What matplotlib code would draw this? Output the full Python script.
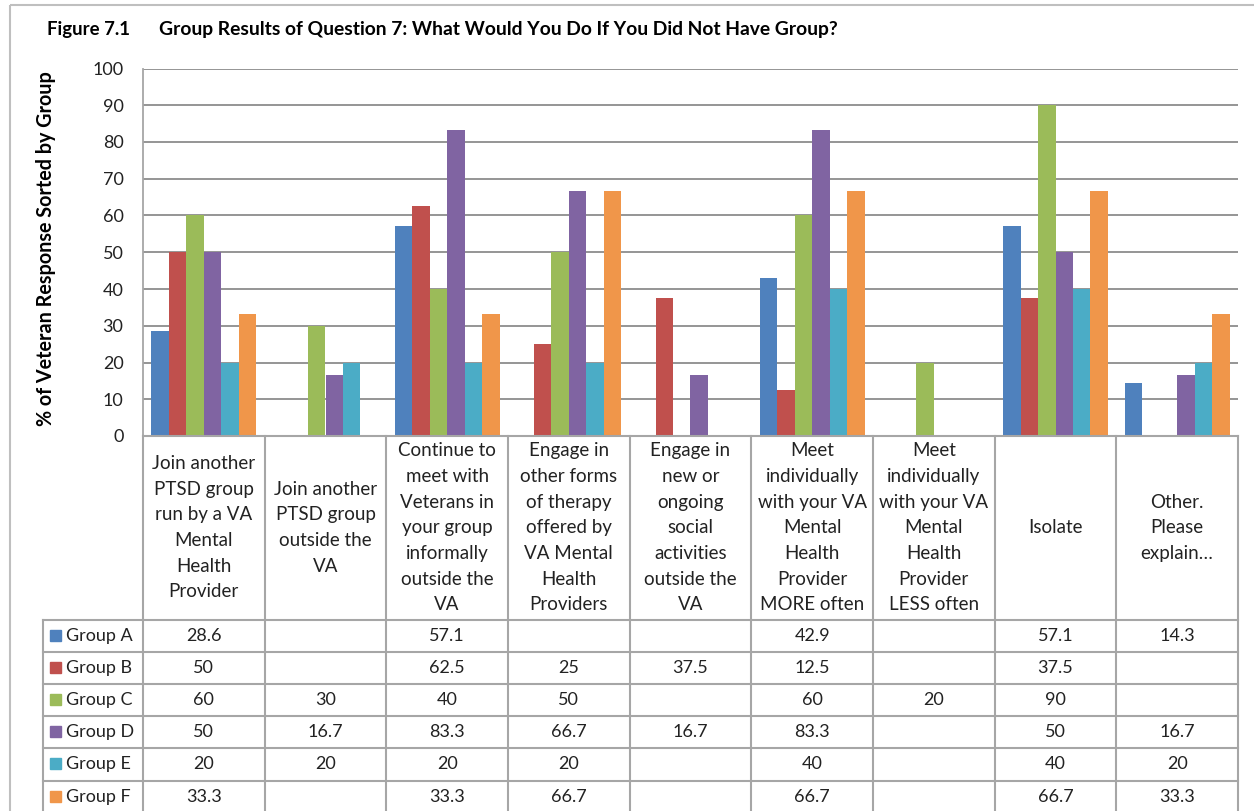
import numpy as np
import matplotlib.pyplot as plt
from matplotlib.patches import Rectangle

plt.rcParams['font.family'] = ['Lato', 'DejaVu Sans']

# Данные
categories = [
    "Join another\nPTSD group\nrun by a VA\nMental\nHealth\nProvider",
    "Join another\nPTSD group\noutside the\nVA",
    "Continue to\nmeet with\nVeterans in\nyour group\ninformally\noutside the\nVA",
    "Engage in\nother forms\nof therapy\noffered by\nVA Mental\nHealth\nProviders",
    "Engage in\nnew or\nongoing\nsocial\nactivities\noutside the\nVA",
    "Meet\nindividually\nwith your VA\nMental\nHealth\nProvider\nMORE often",
    "Meet\nindividually\nwith your VA\nMental\nHealth\nProvider\nLESS often",
    "Isolate",
    "Other.\nPlease\nexplain…",
]
groups = ["Group A", "Group B", "Group C", "Group D", "Group E", "Group F"]
colors = ["#4F81BD", "#C0504D", "#9BBB59", "#8064A2", "#4BACC6", "#F0964A"]

group_a = [28.6, None, 57.1, None, None, 42.9, None, 57.1, 14.3]
group_b = [50, None, 62.5, 25, 37.5, 12.5, None, 37.5, None]
group_c = [60, 30, 40, 50, None, 60, 20, 90, None]
group_d = [50, 16.7, 83.3, 66.7, 16.7, 83.3, None, 50, 16.7]
group_e = [20, 20, 20, 20, None, 40, None, 40, 20]
group_f = [33.3, None, 33.3, 66.7, None, 66.7, None, 66.7, 33.3]
values = [group_a, group_b, group_c, group_d, group_e, group_f]

yticks = list(range(0, 101, 10))

# Разметка в пикселях
W, H = 1254, 811
plot_l, plot_r = 143, 1238
plot_t, plot_b = 68.5, 436
leg_l = 43
hdr_b = 619.5
row_h = 32.2
line_c = "#A6A6A6"
txt_c = "#222222"

fig = plt.figure(figsize=(W / 100, H / 100), dpi=100)

# График столбцов
ax = fig.add_axes([plot_l / W, 1 - plot_b / H, (plot_r - plot_l) / W, (plot_b - plot_t) / H])
n = len(categories)
x = np.arange(n)
bw = 0.1435
for i, (vals, c) in enumerate(zip(values, colors)):
    h = [np.nan if v is None else v for v in vals]
    ax.bar(x + (i - 2.5) * bw, h, bw, color=c, zorder=3, linewidth=0)
ax.set_xlim(-0.5, n - 0.5)
ax.set_ylim(0, 100)
ax.set_yticks(yticks)
ax.set_xticks([])
ax.yaxis.grid(True, color="#8C8C8C", lw=1.3, zorder=0)
for s in ["top", "right", "bottom"]:
    ax.spines[s].set_visible(False)
ax.spines["left"].set_color(line_c)
ax.spines["left"].set_linewidth(1.3)
ax.tick_params(axis="y", length=0, pad=14, labelsize=13, labelcolor=txt_c)

# Таблица данных поверх всей фигуры
ov = fig.add_axes([0, 0, 1, 1], facecolor="none")
ov.set_xlim(0, W)
ov.set_ylim(H, 0)
ov.axis("off")

ov.add_patch(Rectangle((10, 5), W + 20, H + 20, fill=False, ec="#BFBFBF", lw=1.5))

colw = (plot_r - plot_l) / n
lw = 1.5
ov.plot([plot_l, plot_r], [plot_b, plot_b], color=line_c, lw=lw)
for k in range(n + 1):
    xx = plot_l + k * colw
    ov.plot([xx, xx], [plot_b, H + 5], color=line_c, lw=lw)
ov.plot([leg_l, leg_l], [hdr_b, H + 5], color=line_c, lw=lw)
for r in range(len(groups) + 1):
    yy = hdr_b + r * row_h
    ov.plot([leg_l, plot_r], [yy, yy], color=line_c, lw=lw)

for j, cat in enumerate(categories):
    ov.text(plot_l + (j + 0.5) * colw, (plot_b + hdr_b) / 2, cat, ha="center", va="center",
            fontsize=13.5, linespacing=1.62, color=txt_c)

for r, (g, vals, c) in enumerate(zip(groups, values, colors)):
    yc = hdr_b + (r + 0.5) * row_h
    ov.add_patch(Rectangle((50, yc - 6), 11, 11, color=c))
    ov.text(66, yc, g, ha="left", va="center", fontsize=13, color=txt_c)
    for j, v in enumerate(vals):
        if v is not None:
            ov.text(plot_l + (j + 0.5) * colw, yc, f"{v:g}", ha="center", va="center",
                    fontsize=13, color=txt_c)

# Заголовок и подпись оси
fig.text(47 / W, 1 - 30 / H, "Figure 7.1", fontsize=13.4, fontweight="bold", va="center")
fig.text(159 / W, 1 - 30 / H, "Group Results of Question 7: What Would You Do If You Did Not Have Group?",
         fontsize=13.9, fontweight="bold", va="center")
fig.text(46 / W, 1 - 249 / H, "% of Veteran Response Sorted by Group", rotation=90,
         fontsize=14.2, fontweight="bold", ha="center", va="center")

fig.savefig("out.png", dpi=100)
